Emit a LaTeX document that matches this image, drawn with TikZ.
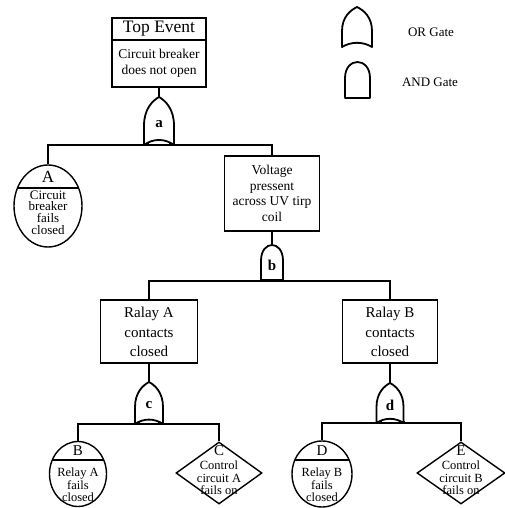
\documentclass[tikz,border=0pt]{standalone}
\usepackage{fontspec}
\setmainfont{Liberation Serif}
\usetikzlibrary{shapes.geometric}
\newcommand\orshape[4]{% x, ybottom, width, height
  \draw[gateline] ({#1-#3/2},#2) -- ({#1-#3/2},{#2-0.4*#4})
   .. controls ({#1-#3/2},{#2-0.75*#4}) and ({#1-0.22*#3},{#2-0.92*#4}) .. (#1,{#2-#4})
   .. controls ({#1+0.22*#3},{#2-0.92*#4}) and ({#1+#3/2},{#2-0.75*#4}) .. ({#1+#3/2},{#2-0.4*#4})
   -- ({#1+#3/2},#2)
   .. controls ({#1+0.2*#3},{#2-0.14*#4}) and ({#1-0.2*#3},{#2-0.14*#4}) .. ({#1-#3/2},#2) -- cycle;}
\newcommand\andshape[4]{% x, ybottom, width, height
  \draw[gateline] ({#1-#3/2},#2) -- ({#1-#3/2},{#2-0.55*#4})
   .. controls ({#1-#3/2},{#2-1.15*#4}) and ({#1+#3/2},{#2-1.15*#4}) .. ({#1+#3/2},{#2-0.55*#4})
   -- ({#1+#3/2},#2) -- cycle;}
\newcommand\gatefeet[3]{% x, ybottom, width
  \draw[line width=2.4pt] ({#1-#3/2-1},{#2-0.8}) -- ({#1-#3/2+5},{#2-0.8});
  \draw[line width=2.4pt] ({#1+#3/2+1},{#2-0.8}) -- ({#1+#3/2-5},{#2-0.8});}
\begin{document}
\begin{tikzpicture}[x=1pt,y=-1pt,
  gateline/.style={line width=1.8pt,line join=round},
  conn/.style={line width=1.4pt},
  box/.style={draw,line width=1.4pt,rectangle,inner sep=0pt},
  basic/.style={draw,line width=1.4pt,ellipse,inner sep=0pt},
  undev/.style={draw,line width=1.4pt,diamond,inner sep=0pt},
  txt/.style={align=center,inner sep=0pt},
  glabel/.style={inner sep=0pt,font=\fontsize{15}{15}\selectfont\bfseries}]
\useasboundingbox (0,0) rectangle (505,508);

% ---------- legend ----------
\orshape{357}{47}{30}{40}
\andshape{357.5}{98}{25}{36}
\node[txt,font=\fontsize{13}{13}\selectfont] (legor) at (431,32) {OR Gate};
\node[txt,font=\fontsize{13}{13}\selectfont] (legand) at (430,82) {AND Gate};

% ---------- top event ----------
\node[box,minimum width=94,minimum height=69] (top) at (159,52.5) {};
\draw[conn] (top.west |- 0,40) -- (top.east |- 0,40);
\node[txt,font=\fontsize{17.5}{18}\selectfont] (toptitle) at (159,29) {Top Event};
\node[txt,font=\fontsize{13.5}{16.5}\selectfont] (toptext) at (159,63.5) {Circuit breaker\\does not open};

% ---------- gate a (OR) ----------
\orshape{159}{145}{30}{48}
\gatefeet{159}{145}{30}
\coordinate (ga-t) at (159,97);
\coordinate (ga-b) at (159,145);
\node[glabel] (ga) at (159,124) {a};

% ---------- basic event A ----------
\node[basic,minimum width=68,minimum height=82] (cA) at (48,206) {};
\draw[conn] (17.5,188) -- (78.5,188);
\node[txt,font=\fontsize{17}{17}\selectfont] (lA) at (48,176.5) {A};
\node[txt,font=\fontsize{13}{11.7}\selectfont] (tA) at (48,212.5) {Circuit\\breaker\\fails\\closed};

% ---------- voltage box ----------
\node[box,minimum width=95,minimum height=75] (volt) at (272,193.5) {};
\node[txt,font=\fontsize{13.5}{15.5}\selectfont] (tvolt) at (272,193.5) {Voltage\\pressent\\across UV tirp\\coil};

% ---------- gate b (AND) ----------
\andshape{272}{280}{22}{35}
\gatefeet{272}{281}{22}
\coordinate (gb-t) at (272,245);
\coordinate (gb-b) at (272,281);
\node[glabel] (gb) at (272,265) {b};

% ---------- relay boxes ----------
\node[box,minimum width=97,minimum height=63] (ra) at (149,331.5) {};
\node[txt,font=\fontsize{15}{19.5}\selectfont] (tra) at (149,332) {Ralay A\\contacts\\closed};
\node[box,minimum width=95,minimum height=63] (rb) at (390,331.5) {};
\node[txt,font=\fontsize{15}{19.5}\selectfont] (trb) at (390,332) {Ralay B\\contacts\\closed};

% ---------- gates c, d (OR) ----------
\orshape{149}{424}{28}{42}
\gatefeet{149}{424}{28}
\coordinate (gc-t) at (149,382);
\coordinate (gc-b) at (149,424);
\node[glabel] (gc) at (149,405) {c};
\orshape{390}{423}{27}{40}
\gatefeet{390}{423}{27}
\coordinate (gd-t) at (390,383);
\coordinate (gd-b) at (390,423);
\node[glabel] (gd) at (390,405) {d};

% ---------- bottom events ----------
\node[basic,minimum width=57,minimum height=65] (cB) at (78,474) {};
\draw[conn] (52.3,460) -- (103.7,460);
\node[txt,font=\fontsize{15}{15}\selectfont] (lB) at (78,451) {B};
\node[txt,font=\fontsize{12.5}{12.5}\selectfont] (tB) at (78,485) {Relay A\\fails\\closed};

\node[undev,minimum width=86,minimum height=62] (dC) at (219,473) {};
\node[txt,font=\fontsize{15}{15}\selectfont] (lC) at (219,451) {C};
\node[txt,font=\fontsize{12.5}{12.5}\selectfont] (tC) at (219,478) {Control\\circuit A\\fails on};

\node[basic,minimum width=60,minimum height=66] (cD) at (322,474) {};
\draw[conn] (294.8,460) -- (349.2,460);
\node[txt,font=\fontsize{15}{15}\selectfont] (lD) at (322,451) {D};
\node[txt,font=\fontsize{12.5}{12.5}\selectfont] (tD) at (322,485) {Relay B\\fails\\closed};

\node[undev,minimum width=88,minimum height=62] (dE) at (461,473) {};
\node[txt,font=\fontsize{15}{15}\selectfont] (lE) at (461,451) {E};
\node[txt,font=\fontsize{12.5}{12.5}\selectfont] (tE) at (461,478) {Control\\circuit B\\fails on};

% ---------- connectors ----------
\draw[conn] (top.south) -- (ga-t);
\draw[conn] (cA.north) |- (ga-b) -| (volt.north);
\draw[conn] (volt.south) -- (gb-t);
\draw[conn] (ra.north) |- (gb-b) -| (rb.north);
\draw[conn] (ra.south) -- (gc-t);
\draw[conn] (cB.north) |- (gc-b) -| (dC.north);
\draw[conn] (rb.south) -- (gd-t);
\draw[conn] (cD.north) |- (gd-b) -| (dE.north);
\end{tikzpicture}
\end{document}
